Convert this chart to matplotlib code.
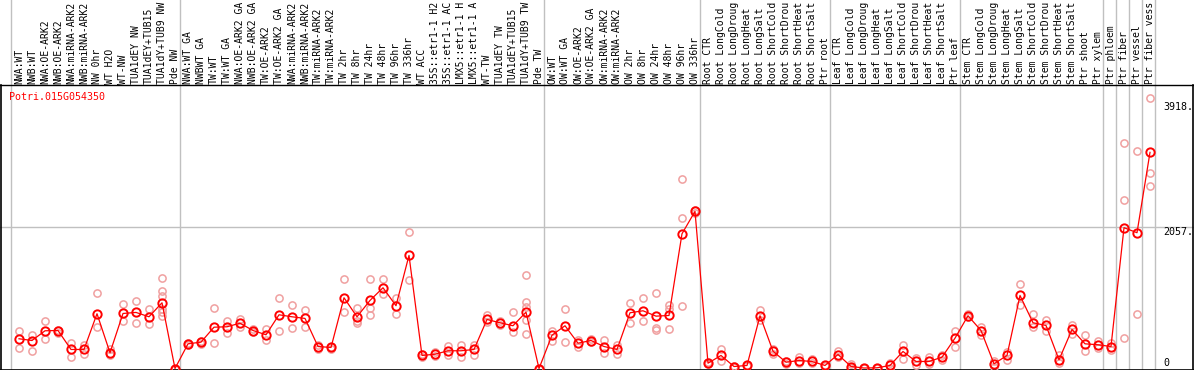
import numpy as np
import matplotlib.pyplot as plt
import matplotlib.transforms as mtransforms

gene = "Potri.015G054350"

# sample names as the chart shows them (cut to 14 characters)
samples = [
    "NWA:WT", "NWB:WT", "NWA:OE-ARK2", "NWB:OE-ARK2", "NWA:miRNA-ARK2", "NWB:miRNA-ARK2",
    "NW 0hr", "WT H2O", "WT-NW", "TUA1dEY NW", "TUA1dEY+TUB15", "TUA1dY+TUB9 NW", "Pde NW",
    "NWA:WT GA", "NWBWT GA", "TW:WT", "TW:WT GA", "NWA:OE-ARK2 GA", "NWB:OE-ARK2 GA",
    "TW:OE-ARK2", "TW:OE-ARK2 GA", "NWA:miRNA-ARK2", "NWB:miRNA-ARK2", "TW:miRNA-ARK2",
    "TW:miRNA-ARK2", "TW 2hr", "TW 8hr", "TW 24hr", "TW 48hr", "TW 96hr", "TW 336hr",
    "WT ACC", "35S::etr1-1 H2", "35S::etr1-1 AC", "LMX5::etr1-1 H", "LMX5::etr1-1 A",
    "WT-TW", "TUA1dEY TW", "TUA1dEY+TUB15", "TUA1dY+TUB9 TW", "Pde TW",
    "OW:WT", "OW:WT GA", "OW:OE-ARK2", "OW:OE-ARK2 GA", "OW:miRNA-ARK2", "OW:miRNA-ARK2",
    "OW 2hr", "OW 8hr", "OW 24hr", "OW 48hr", "OW 96hr", "OW 336hr",
    "Root CTR", "Root LongCold", "Root LongDroug", "Root LongHeat", "Root LongSalt",
    "Root ShortCold", "Root ShortDrou", "Root ShortHeat", "Root ShortSalt", "Ptr root",
    "Leaf CTR", "Leaf LongCold", "Leaf LongDroug", "Leaf LongHeat", "Leaf LongSalt",
    "Leaf ShortCold", "Leaf ShortDrou", "Leaf ShortHeat", "Leaf ShortSalt", "Ptr leaf",
    "Stem CTR", "Stem LongCold", "Stem LongDroug", "Stem LongHeat", "Stem LongSalt",
    "Stem ShortCold", "Stem ShortDrou", "Stem ShortHeat", "Stem ShortSalt", "Ptr shoot",
    "Ptr xylem", "Ptr phloem", "Ptr fiber", "Ptr vessel", "Ptr fiber vess",
]

means = [
    431, 406, 547, 551, 276, 276, 794, 228, 798, 813, 750, 953, 0,
    358, 382, 599, 605, 657, 551, 489, 779, 750, 726, 319, 305, 1026, 750, 987,
    1171, 910, 1640, 189, 207, 257, 257, 276, 711, 663, 620, 817, 0,
    483, 620, 367, 406, 319, 276, 808, 837, 759, 769, 1954, 2278,
    77, 189, 29, 44, 765, 251, 91, 116, 102, 44,
    203, 29, 7, 10, 44, 247, 102, 102, 164, 440,
    765, 551, 68, 189, 1059, 663, 624, 126, 566, 358, 344,
    319, 2042, 1969, 3134,
]

reps = [
    [551, 300], [479, 261], [682, 421], [562, 522], [367, 174], [334, 213],
    [1098, 609], [286, 189], [939, 686], [972, 663], [866, 649],
    [1316, 1117, 1045, 866, 817, 755], [0, 0],
    [345, 370], [406, 360], [881, 373], [686, 518], [721, 609], [576, 530],
    [576, 416], [1026, 537], [914, 588], [842, 609], [286, 340], [319, 290],
    [1302, 817], [881, 657, 696], [1302, 881, 779], [1302, 1084], [1020, 794],
    [1983, 1287], [164, 210], [237, 180], [324, 203], [344, 164], [348, 203],
    [769, 672], [696, 624], [813, 527], [1349, 962, 889, 707, 503], [0, 0],
    [541, 396], [856, 387], [416, 309], [435, 380], [416, 222], [344, 213],
    [953, 663], [1016, 692], [1098, 585, 562], [924, 866, 576], [2753, 2187, 910],
    [2300, 2260],
    [90, 65], [276, 102], [40, 20], [55, 35], [842, 707], [286, 213],
    [116, 70], [164, 87], [131, 80], [50, 40],
    [251, 160], [68, 10], [10, 5], [10, 10], [87, 10], [334, 141],
    [149, 44], [164, 60], [203, 130], [537, 309],
    [784, 750], [479, 600], [102, 29], [237, 126], [1219, 914], [794, 599],
    [707, 551], [189, 80], [624, 503], [493, 251], [406, 295],
    [373, 271], [3275, 2438, 440], [3149, 794], [3918, 2840, 2651],
]

# last sample index of each group (-1 = line before the first sample)
group_ends = [-1, 12, 40, 52, 62, 72, 83, 84, 85, 86, 87]

tick_vals = [3918, 2057, 0]
tick_text = ["3918.", "2057.", "0"]

W, H = 1194, 370
fig = plt.figure(figsize=(W / 100, H / 100), dpi=100)
ax = fig.add_axes([0, 0, 1, 1])
ax.set_axis_off()

# pixel layout: sample i sits at 19 + 13*i px, value 0 at 368.5 px, 3918 at 98.3 px
x0_px, dx_px = 19, 13
zero_px, top_px = 368.5, 98.3
ppu = (zero_px - top_px) / 3918
ax.set_xlim(-x0_px / dx_px, (W - x0_px) / dx_px)
ax.set_ylim(-(H - zero_px) / ppu, zero_px / ppu)

mono = "DejaVu Sans Mono"
grey = "#c0c0c0"

for e in group_ends:
    ax.axvline(e + 0.35, color=grey, lw=1.0, zorder=1)
ax.axhline(2057, color=grey, lw=1.0, zorder=1)

# frame lines
fy = lambda px: 1 - px / H
fx = lambda px: px / W
ax.plot([0, 1], [fy(85), fy(85)], transform=ax.transAxes, color="black", lw=1.0)
ax.plot([0, 1], [fy(369.5), fy(369.5)], transform=ax.transAxes, color="black", lw=1.2)
ax.plot([fx(1), fx(1)], [fy(85), fy(370)], transform=ax.transAxes, color="black", lw=1.2)
ax.plot([fx(1193), fx(1193)], [fy(85), fy(370)], transform=ax.transAxes, color="black", lw=1.2)

# sample labels
lab_tr = mtransforms.blended_transform_factory(ax.transData, ax.transAxes)
for i, s in enumerate(samples):
    ax.text(i, fy(83.5), s, rotation=90, ha="center", va="bottom", transform=lab_tr,
            fontsize=7.0, family=mono, color="black")

ax.text(fx(9), fy(97), gene, color="red", transform=ax.transAxes, ha="left", va="center",
        fontsize=7.2, family=mono)

offsets = [-9, -5, 6]
for v, t, off in zip(tick_vals, tick_text, offsets):
    ax.annotate(t, xy=(fx(1163), v), xycoords=("axes fraction", "data"),
                xytext=(0, off), textcoords="offset pixels", ha="left", va="center",
                fontsize=7.2, family=mono, color="black")

# replicates
rx = [i for i, r in enumerate(reps) for _ in r]
ry = [v for r in reps for v in r]
ax.plot(rx, ry, linestyle="none", marker="o", ms=5.2, mfc="none", mec="#f0a0a0",
        mew=1.1, zorder=2)

# means
ax.plot(range(len(means)), means, color="red", lw=0.9, marker="o", ms=6, mfc="none",
        mec="red", mew=1.4, zorder=3)

fig.savefig("out.png", dpi=100)
